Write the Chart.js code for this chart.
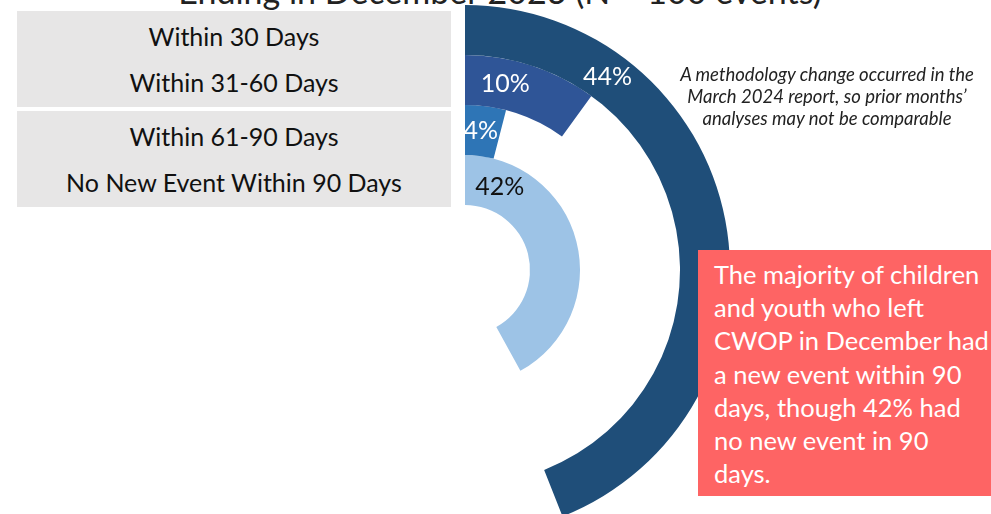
<!DOCTYPE html>
<html>
<head>
<meta charset="utf-8">
<script src="https://cdn.jsdelivr.net/npm/chart.js@4"></script>
<style>
    html, body { margin: 0; padding: 0; background: #fff; width: 991px; height: 514px; overflow: hidden; }
    body { position: relative; font-family: Lato, "Open Sans", sans-serif; }
    #title { position: absolute; left: 150px; width: 700px; top: -30px; text-align: center; font-size: 34px; color: #222; white-space: nowrap; }
    #legend { position: absolute; left: 17px; top: 11px; width: 434px; }
    .legend-group { background: #e7e6e6; margin-bottom: 4px; padding: 2px 0; }
    .legend-item { height: 46px; line-height: 46px; text-align: center; font-size: 25px; color: #111; white-space: nowrap; }
    #chart-wrap { position: absolute; left: 200px; top: 5px; width: 530px; height: 530px; }
    #note { position: absolute; left: 662px; top: 63px; width: 330px; text-align: center; font-style: italic; font-size: 18.5px; line-height: 22px; color: #222; white-space: nowrap; }
    #callout { position: absolute; left: 698px; top: 250px; width: 300px; height: 246px; background: #fe6464; color: #fff; font-size: 25.5px; line-height: 33.2px; box-sizing: border-box; padding: 8px 0 0 16px; white-space: nowrap; }
</style>
</head>
<body>
<div id="title">Ending in December 2023 (N = 100 events)</div>
<div id="legend"></div>
<div id="chart-wrap"><canvas id="ring-chart"></canvas></div>
<div id="note">A methodology change occurred in the<br>March 2024 report, so prior months’<br>analyses may not be comparable</div>
<div id="callout">The majority of children<br>and youth who left<br>CWOP in December had<br>a new event within 90<br>days, though 42% had<br>no new event in 90<br>days.</div>
<script>
// Data (outer ring first)
const categories = ['Within 30 Days', 'Within 31-60 Days', 'Within 61-90 Days', 'No New Event Within 90 Days'];
const percents = [44, 10, 4, 42];
const ringColors = ['#1f4e79', '#2f5597', '#2e75b6', '#9dc3e6'];
const labelColors = ['#ffffff', '#ffffff', '#ffffff', '#111111'];
// where along each arc the % label sits (fraction of the arc)
const labelSpots = [0.23, 0.34, 0.45, 0.15];

// Legend boxes (two grey groups of two)
const legendEl = document.getElementById('legend');
for (let g = 0; g < 2; g++) {
    const group = document.createElement('div');
    group.className = 'legend-group';
    categories.slice(g * 2, g * 2 + 2).forEach(name => {
        const item = document.createElement('div');
        item.className = 'legend-item';
        item.textContent = name;
        group.appendChild(item);
    });
    legendEl.appendChild(group);
}

// Percent labels drawn on each ring
const ringLabels = {
    id: 'ringLabels',
    afterDatasetsDraw(chart) {
        const ctx = chart.ctx;
        ctx.save();
        ctx.font = '25px Lato, "Open Sans", sans-serif';
        ctx.textAlign = 'center';
        ctx.textBaseline = 'middle';
        chart.data.datasets.forEach((ds, i) => {
            const arc = chart.getDatasetMeta(i).data[0];
            const a = arc.startAngle + labelSpots[i] * (arc.endAngle - arc.startAngle);
            const r = (arc.innerRadius + arc.outerRadius) / 2;
            ctx.fillStyle = labelColors[i];
            ctx.fillText(percents[i] + '%', arc.x + Math.cos(a) * r, arc.y + Math.sin(a) * r);
        });
        ctx.restore();
    }
};

const ctx = document.getElementById('ring-chart').getContext('2d');
const ringChart = new Chart(ctx, {
    type: 'doughnut',
    data: {
        labels: ['value', 'rest'],
        datasets: percents.map((p, i) => ({
            label: categories[i],
            data: [p, 100 - p],
            backgroundColor: [ringColors[i], 'rgba(0,0,0,0)'],
            borderWidth: 0
        }))
    },
    options: {
        responsive: true,
        maintainAspectRatio: false,
        animation: false,
        cutout: 65,
        rotation: 0,
        circumference: 360,
        plugins: {
            legend: { display: false },
            tooltip: { enabled: false }
        }
    },
    plugins: [ringLabels]
});
</script>
</body>
</html>
